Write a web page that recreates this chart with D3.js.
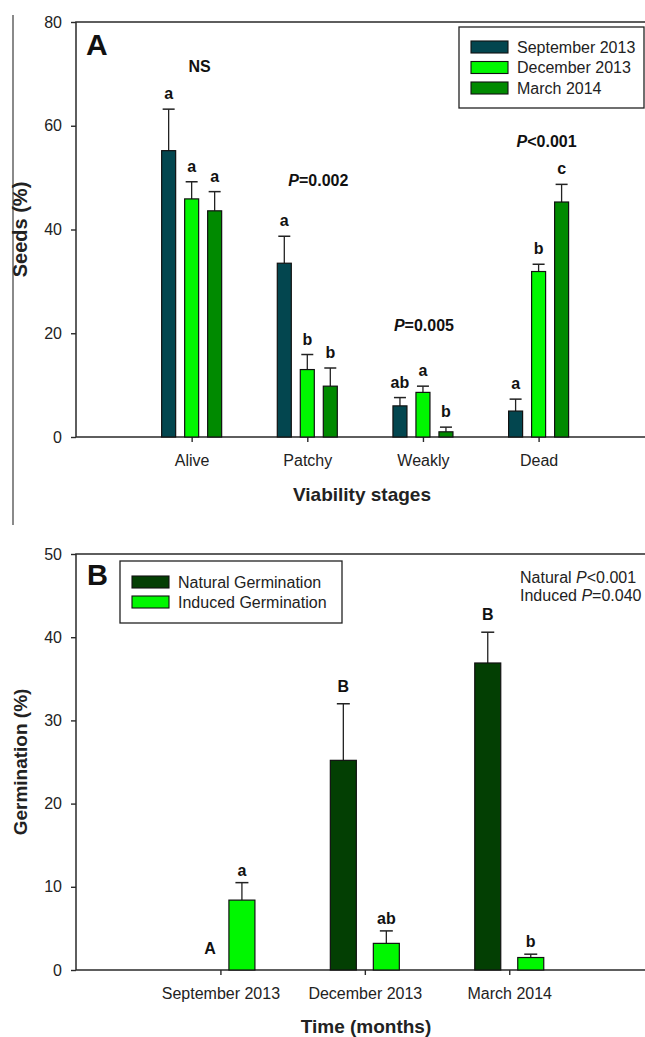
<!DOCTYPE html>
<html>
<head>
<meta charset="utf-8">
<script src="https://cdn.jsdelivr.net/npm/d3@7"></script>
<style>
  html, body { margin: 0; padding: 0; background: #fff; }
  svg { display: block; font-family: "Liberation Sans", Arial, sans-serif; }
</style>
</head>
<body>
<svg id="fig" width="645" height="1037"></svg>
<script>
// ---- Panel A: seed viability stages ----
const stages = ["Alive", "Patchy", "Weakly", "Dead"];
const samplings = ["September 2013", "December 2013", "March 2014"];
const seedsSep = [55.2, 33.5, 6.0, 5.0];
const seedsDec = [45.9, 13.0, 8.6, 31.9];
const seedsMar = [43.6, 9.8, 1.0, 45.3];
const seedsSepErr = [8.0, 5.2, 1.6, 2.3];
const seedsDecErr = [3.3, 2.9, 1.2, 1.4];
const seedsMarErr = [3.7, 3.5, 0.9, 3.4];
const lettersSep = ["a", "a", "ab", "a"];
const lettersDec = ["a", "b", "a", "b"];
const lettersMar = ["a", "b", "b", "c"];
const stageTests = ["NS", "P=0.002", "P=0.005", "P<0.001"];
const stageTestLevel = [70.4, 48.4, 20.4, 55.9];
const seedTicks = [0, 20, 40, 60, 80];

// ---- Panel B: germination over time ----
const months = ["September 2013", "December 2013", "March 2014"];
const germTypes = ["Natural Germination", "Induced Germination"];
const natural = [0, 25.2, 36.9];
const naturalErr = [0, 6.8, 3.7];
const induced = [8.4, 3.2, 1.5];
const inducedErr = [2.1, 1.5, 0.4];
const lettersNatural = ["A", "B", "B"];
const lettersInduced = ["a", "ab", "b"];
const germTests = [["Natural ", "P", "<0.001"], ["Induced ", "P", "=0.040"]];
const germTicks = [0, 10, 20, 30, 40, 50];

const colA = ["#03464f", "#00f700", "#008a00"];
const colB = ["#033f03", "#00f700"];

const svg = d3.select("#fig");
const axisCol = "#2a2a2a";

// margin rule running down the left edge of the upper panel
svg.append("line").attr("x1", 13).attr("x2", 13).attr("y1", 15).attr("y2", 525)
  .attr("stroke", "#8a8a8a").attr("stroke-width", 2);

function styleAxis(g) {
  g.select(".domain").remove();
  g.selectAll(".tick line").attr("stroke", axisCol).attr("stroke-width", 1.4);
  g.selectAll(".tick text").attr("fill", "#222").attr("font-size", 16)
    .attr("font-family", "'Liberation Sans', Arial, sans-serif");
}

function frame(x0, x1, y0, y1) {
  const f = svg.append("g").attr("stroke", axisCol).attr("stroke-width", 1.5).attr("fill", "none");
  f.append("path").attr("d", `M${x1},${y1}H${x0}V${y0}H${x1}`);
}

// ================= Panel A =================
{
  const left = 76, right = 645, top = 22, bottom = 437;
  const x = d3.scaleLinear().domain([0, 4.92]).range([left, right]);
  const y = d3.scaleLinear().domain([0, 80]).range([bottom, top]);
  const sub = d3.scaleBand().domain(samplings).range([-30, 30]).paddingInner(9 / 23);

  frame(left, right, bottom, top);

  svg.append("g").attr("transform", `translate(${left},0)`)
    .call(d3.axisLeft(y).tickValues(seedTicks).tickSize(5).tickPadding(9))
    .call(styleAxis);
  svg.append("g").attr("transform", `translate(0,${bottom})`)
    .call(d3.axisBottom(x).tickValues(stages.map((d, i) => i + 1))
      .tickFormat((d) => stages[d - 1]).tickSize(5).tickPadding(13))
    .call(styleAxis);

  const vals = [seedsSep, seedsDec, seedsMar];
  const errs = [seedsSepErr, seedsDecErr, seedsMarErr];
  const lets = [lettersSep, lettersDec, lettersMar];
  const rows = [];
  samplings.forEach((s, si) => stages.forEach((st, ci) => rows.push({
    s, si, ci, v: vals[si][ci], e: errs[si][ci], l: lets[si][ci]
  })));

  const g = svg.append("g");
  rows.forEach((r) => {
    const x0 = x(r.ci + 1) + sub(r.s);
    const bw = sub.bandwidth();
    const cx = x0 + bw / 2;
    const yt = y(r.v + r.e);
    g.append("line").attr("x1", cx).attr("x2", cx).attr("y1", y(r.v)).attr("y2", yt)
      .attr("stroke", "#222").attr("stroke-width", 1.3);
    g.append("line").attr("x1", cx - 6).attr("x2", cx + 6).attr("y1", yt).attr("y2", yt)
      .attr("stroke", "#222").attr("stroke-width", 1.5);
    g.append("rect").attr("x", x0).attr("y", y(r.v)).attr("width", bw)
      .attr("height", y(0) - y(r.v)).attr("fill", colA[r.si])
      .attr("stroke", "#111").attr("stroke-width", 1.2);
    g.append("text").attr("x", cx).attr("y", yt - 10).attr("text-anchor", "middle")
      .attr("font-size", 16).attr("font-weight", "bold").attr("fill", "#111").text(r.l);
  });

  // test results above each stage
  const nudge = [8, 11, 1, 8];
  stageTests.forEach((t, i) => {
    const tx = svg.append("text").attr("x", x(i + 1) + nudge[i]).attr("y", y(stageTestLevel[i]))
      .attr("text-anchor", "middle").attr("font-size", 16).attr("font-weight", "bold").attr("fill", "#111");
    if (t.startsWith("P")) {
      tx.append("tspan").attr("font-style", "italic").text("P");
      tx.append("tspan").text(t.slice(1));
    } else tx.text(t);
  });

  svg.append("text").attr("x", 86).attr("y", 55).attr("font-size", 30)
    .attr("font-weight", "bold").attr("fill", "#111").text("A");

  // legend
  const lg = svg.append("g");
  lg.append("rect").attr("x", 459).attr("y", 27).attr("width", 185).attr("height", 81)
    .attr("fill", "#fff").attr("stroke", "#222").attr("stroke-width", 1.3);
  samplings.forEach((s, i) => {
    const cy = 47 + i * 20.5;
    lg.append("rect").attr("x", 471).attr("y", cy - 6).attr("width", 37).attr("height", 12)
      .attr("fill", colA[i]).attr("stroke", "#111").attr("stroke-width", 1.1);
    lg.append("text").attr("x", 517).attr("y", cy + 5.5).attr("font-size", 16)
      .attr("fill", "#222").text(s);
  });

  svg.append("text").attr("transform", `translate(20,${(top + bottom) / 2}) rotate(-90)`)
    .attr("text-anchor", "middle").attr("dy", "0.35em").attr("font-size", 20)
    .attr("font-weight", "bold").attr("fill", "#222").text("Seeds (%)");
  svg.append("text").attr("x", 362).attr("y", 501).attr("text-anchor", "middle")
    .attr("font-size", 19).attr("font-weight", "bold").attr("fill", "#222").text("Viability stages");
}

// ================= Panel B =================
{
  const left = 76, right = 645, top = 554, bottom = 970;
  const x = d3.scaleLinear().domain([0, 3.94]).range([left, right]);
  const y = d3.scaleLinear().domain([0, 50]).range([bottom, top]);
  const sub = d3.scaleBand().domain(germTypes).range([-34.5, 34.5]).paddingInner(17 / 43);

  frame(left, right, bottom, top);

  svg.append("g").attr("transform", `translate(${left},0)`)
    .call(d3.axisLeft(y).tickValues(germTicks).tickSize(5).tickPadding(9))
    .call(styleAxis);
  svg.append("g").attr("transform", `translate(0,${bottom})`)
    .call(d3.axisBottom(x).tickValues(months.map((d, i) => i + 1))
      .tickFormat((d) => months[d - 1]).tickSize(5).tickPadding(13))
    .call(styleAxis);

  const vals = [natural, induced];
  const errs = [naturalErr, inducedErr];
  const lets = [lettersNatural, lettersInduced];
  const g = svg.append("g");
  germTypes.forEach((t, ti) => months.forEach((m, ci) => {
    const v = vals[ti][ci], e = errs[ti][ci];
    const x0 = x(ci + 1) + sub(t);
    const bw = sub.bandwidth();
    const cx = x0 + bw / 2;
    const yt = y(v + e);
    if (v > 0) {
      g.append("line").attr("x1", cx).attr("x2", cx).attr("y1", y(v)).attr("y2", yt)
        .attr("stroke", "#222").attr("stroke-width", 1.3);
      g.append("line").attr("x1", cx - 6.5).attr("x2", cx + 6.5).attr("y1", yt).attr("y2", yt)
        .attr("stroke", "#222").attr("stroke-width", 1.5);
      g.append("rect").attr("x", x0).attr("y", y(v)).attr("width", bw)
        .attr("height", y(0) - y(v)).attr("fill", colB[ti])
        .attr("stroke", "#111").attr("stroke-width", 1.2);
    }
    // an empty bar keeps its letter tucked beside the neighbouring bar
    const lx = v > 0 ? cx : cx + 11;
    const ly = v > 0 ? yt - (ti === 0 ? 12 : 7) : y(0) - 16;
    g.append("text").attr("x", lx).attr("y", ly).attr("text-anchor", "middle")
      .attr("font-size", 16).attr("font-weight", "bold").attr("fill", "#111").text(lets[ti][ci]);
  }));

  svg.append("text").attr("x", 87).attr("y", 585).attr("font-size", 29)
    .attr("font-weight", "bold").attr("fill", "#111").text("B");

  // legend
  const lg = svg.append("g");
  lg.append("rect").attr("x", 120).attr("y", 561).attr("width", 222).attr("height", 62)
    .attr("fill", "#fff").attr("stroke", "#222").attr("stroke-width", 1.3);
  germTypes.forEach((t, i) => {
    const cy = 582 + i * 20;
    lg.append("rect").attr("x", 132).attr("y", cy - 6).attr("width", 37).attr("height", 12)
      .attr("fill", colB[i]).attr("stroke", "#111").attr("stroke-width", 1.1);
    lg.append("text").attr("x", 178).attr("y", cy + 5.5).attr("font-size", 16)
      .attr("fill", "#222").text(t);
  });

  germTests.forEach((parts, i) => {
    const tx = svg.append("text").attr("x", 520).attr("y", 583 + i * 18)
      .attr("font-size", 16).attr("fill", "#222");
    tx.append("tspan").text(parts[0]);
    tx.append("tspan").attr("font-style", "italic").text(parts[1]);
    tx.append("tspan").text(parts[2]);
  });

  svg.append("text").attr("transform", `translate(20,${(top + bottom) / 2}) rotate(-90)`)
    .attr("text-anchor", "middle").attr("dy", "0.35em").attr("font-size", 19)
    .attr("font-weight", "bold").attr("fill", "#222").text("Germination (%)");
  svg.append("text").attr("x", 366).attr("y", 1033).attr("text-anchor", "middle")
    .attr("font-size", 19).attr("font-weight", "bold").attr("fill", "#222").text("Time (months)");
}
</script>
</body>
</html>
